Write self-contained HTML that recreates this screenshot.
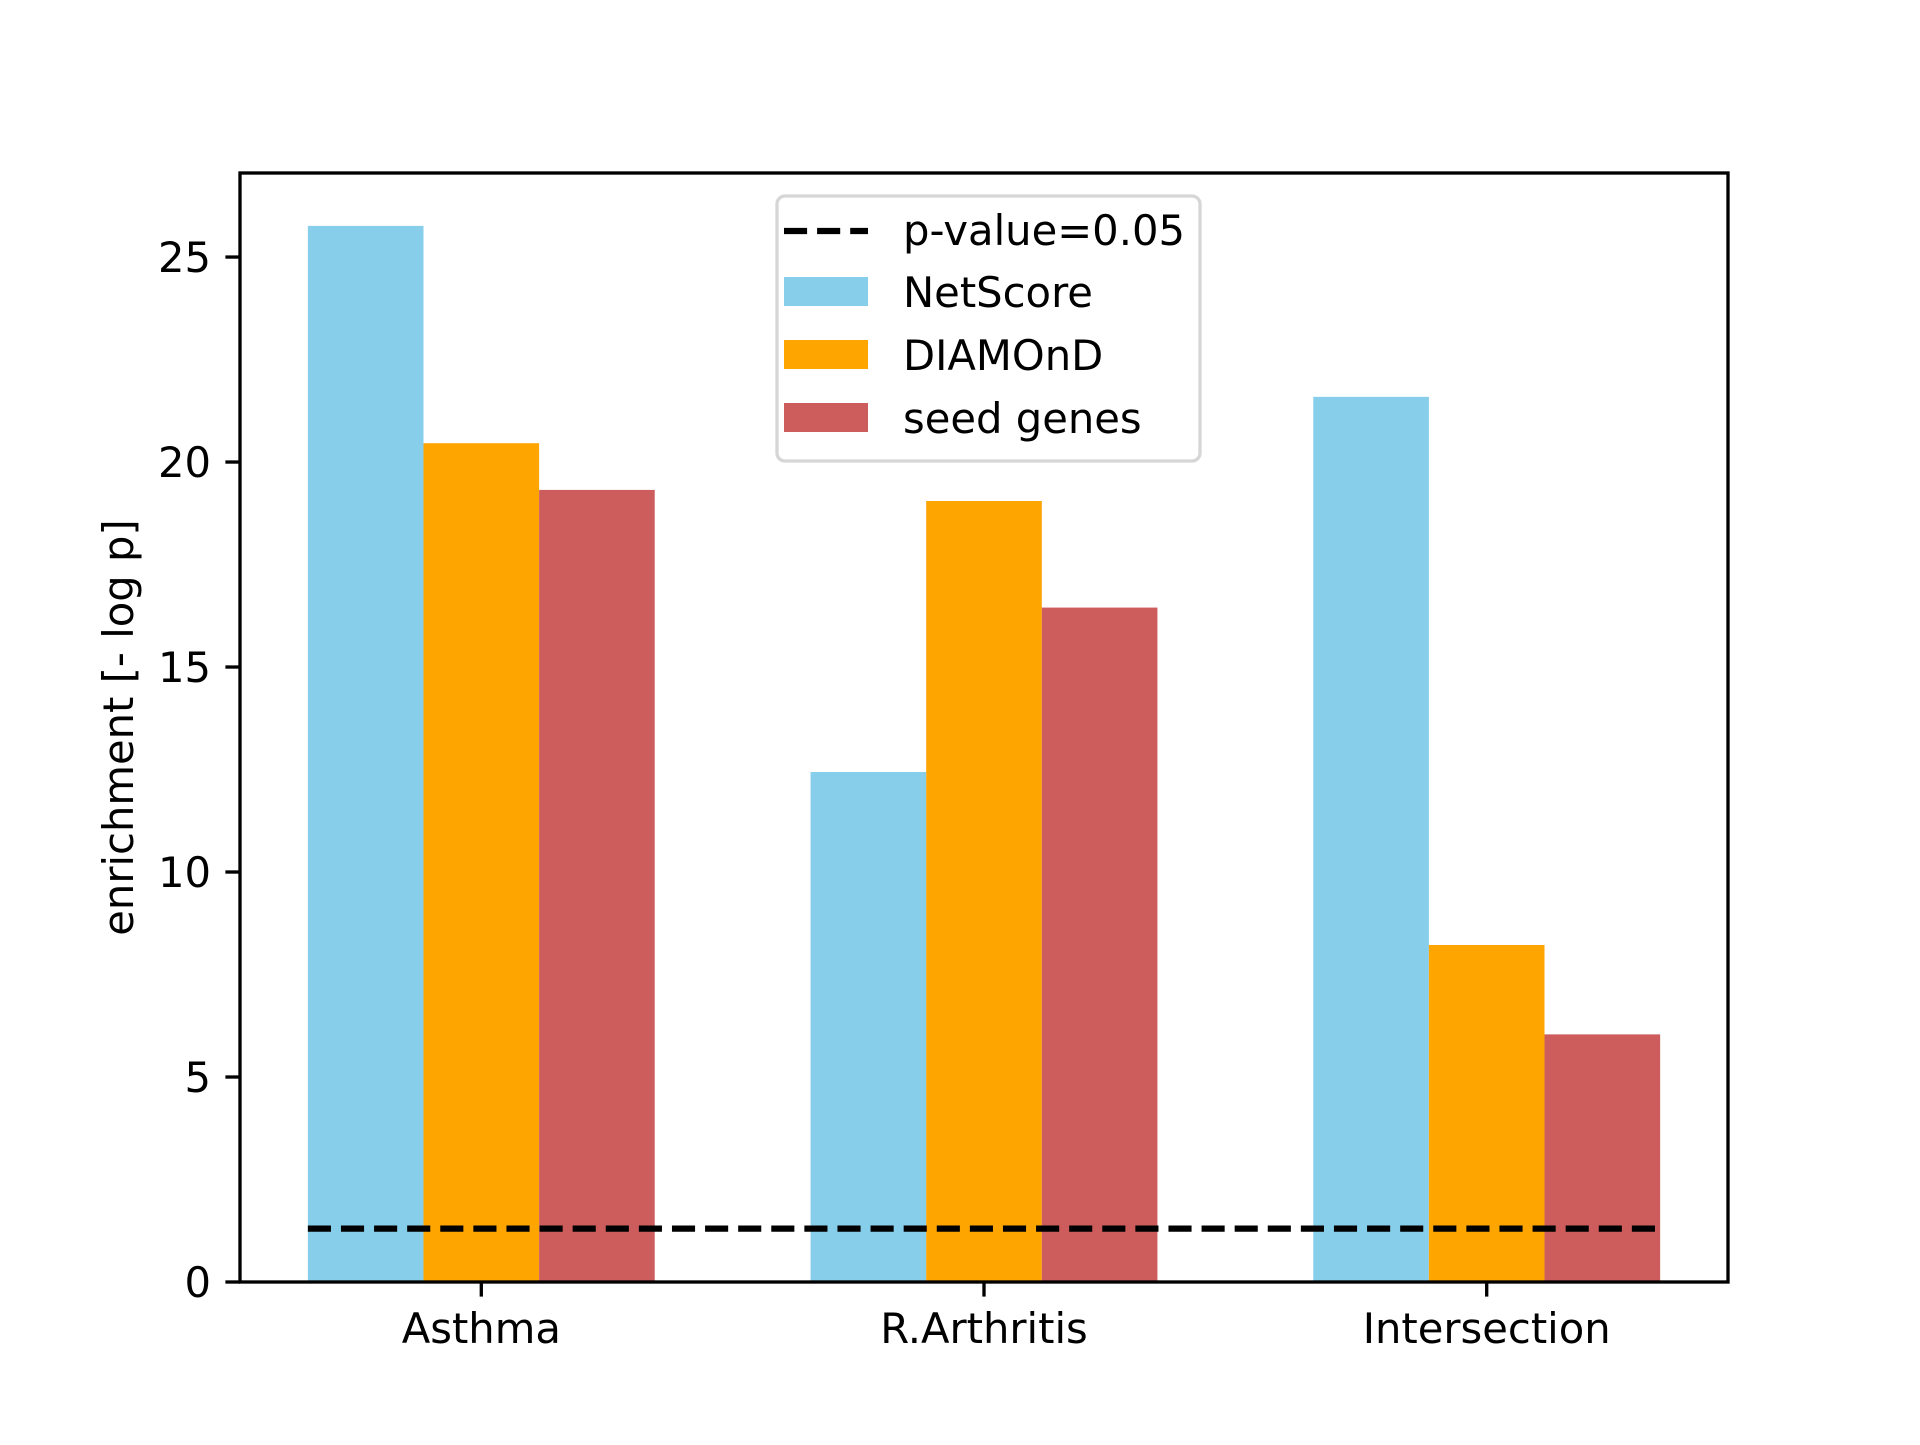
<!DOCTYPE html>
<html><head><meta charset="utf-8">
<style>
html,body{margin:0;padding:0;background:#fff;}
svg text{font-family:"DejaVu Sans","Liberation Sans",sans-serif;font-size:41.7px;fill:#000;}
</style></head>
<body>
<svg id="chart" width="1920" height="1440" viewBox="0 0 1920 1440" xmlns="http://www.w3.org/2000/svg">
<rect width="1920" height="1440" fill="#fff"/>
<g id="bars"></g>
<g id="ref"></g>
<g id="axes"></g>
<g id="legend"></g>
</svg>
<script>
const categories = ["Asthma", "R.Arthritis", "Intersection"];
const seriesNames = ["NetScore", "DIAMOnD", "seed genes"];
const netscore = [25.76, 12.44, 21.59];
const diamond = [20.46, 19.05, 8.22];
const seedGenes = [19.32, 16.45, 6.04];
const pValueLine = 1.301;
const yTicks = [0, 5, 10, 15, 20, 25];
const colors = ["#87ceeb", "#ffa500", "#cd5c5c"];

const NS = "http://www.w3.org/2000/svg";
const L = 240, R = 1728, T = 173, B = 1282;
const xMin = -0.48, xMax = 2.48, yMin = 0, yMax = 27.05;
const barW = 0.23;
function xs(v){ return L + (v - xMin) / (xMax - xMin) * (R - L); }
function ys(v){ return B - (v - yMin) / (yMax - yMin) * (B - T); }
function mk(tag, attrs, parent){
  const e = document.createElementNS(NS, tag);
  for (const k in attrs) e.setAttribute(k, attrs[k]);
  parent.appendChild(e);
  return e;
}
const series = [netscore, diamond, seedGenes];
const barsG = document.getElementById('bars');
series.forEach((vals, s) => {
  vals.forEach((v, i) => {
    const c = i + (s - 1) * barW;
    const r = mk('rect', {x: xs(c - barW/2), y: ys(v), width: xs(c + barW/2) - xs(c - barW/2), height: ys(0) - ys(v), fill: colors[s]}, barsG);
    
    
  });
});
const refG = document.getElementById('ref');
const line = mk('line', {x1: xs(-barW*1.5), x2: xs(categories.length - 1 + barW*1.5), y1: ys(pValueLine), y2: ys(pValueLine), stroke: '#000', 'stroke-width': 6.25, 'stroke-dasharray': '23.1 10'}, refG);



const ax = document.getElementById('axes');
const frame = mk('rect', {x: L, y: T, width: R - L, height: B - T, fill: 'none', stroke: '#000', 'stroke-width': 3.33}, ax);


yTicks.forEach(t => {
  const y = ys(t);
  const tk = mk('line', {x1: L - 14.6, x2: L, y1: y, y2: y, stroke: '#000', 'stroke-width': 3.33}, ax);
  
  
  const tx = mk('text', {x: L - 29, y: y + 15, 'text-anchor': 'end'}, ax);
  tx.textContent = t;
  
  
});
categories.forEach((c, i) => {
  const x = xs(i);
  const tk = mk('line', {x1: x, x2: x, y1: B, y2: B + 14.6, stroke: '#000', 'stroke-width': 3.33}, ax);
  
  
  const tx = mk('text', {x: x, y: B + 61, 'text-anchor': 'middle'}, ax);
  tx.textContent = c;
  
  
});
const yl = mk('text', {x: 0, y: 0, 'text-anchor': 'middle', transform: 'translate(133,' + ((T + B) / 2) + ') rotate(-90)'}, ax);
yl.textContent = 'enrichment [- log p]';



const lg = document.getElementById('legend');
const box = mk('rect', {x: 777, y: 196, width: 423, height: 265, rx: 8, fill: '#fff', 'fill-opacity': 0.8, stroke: '#d6d6d6', 'stroke-width': 3.33}, lg);


const ll = mk('line', {x1: 784, x2: 868, y1: 231, y2: 231, stroke: '#000', 'stroke-width': 6.25, 'stroke-dasharray': '23.1 10'}, lg);


const lt = mk('text', {x: 903, y: 245}, lg);
lt.textContent = 'p-value=0.05';


seriesNames.forEach((n, s) => {
  const yy = 277 + s * 63;
  const p = mk('rect', {x: 784, y: yy, width: 84, height: 29, fill: colors[s]}, lg);
  
  
  const t = mk('text', {x: 903, y: yy + 30}, lg);
  t.textContent = n;
  
  
});
</script>
</body></html>
